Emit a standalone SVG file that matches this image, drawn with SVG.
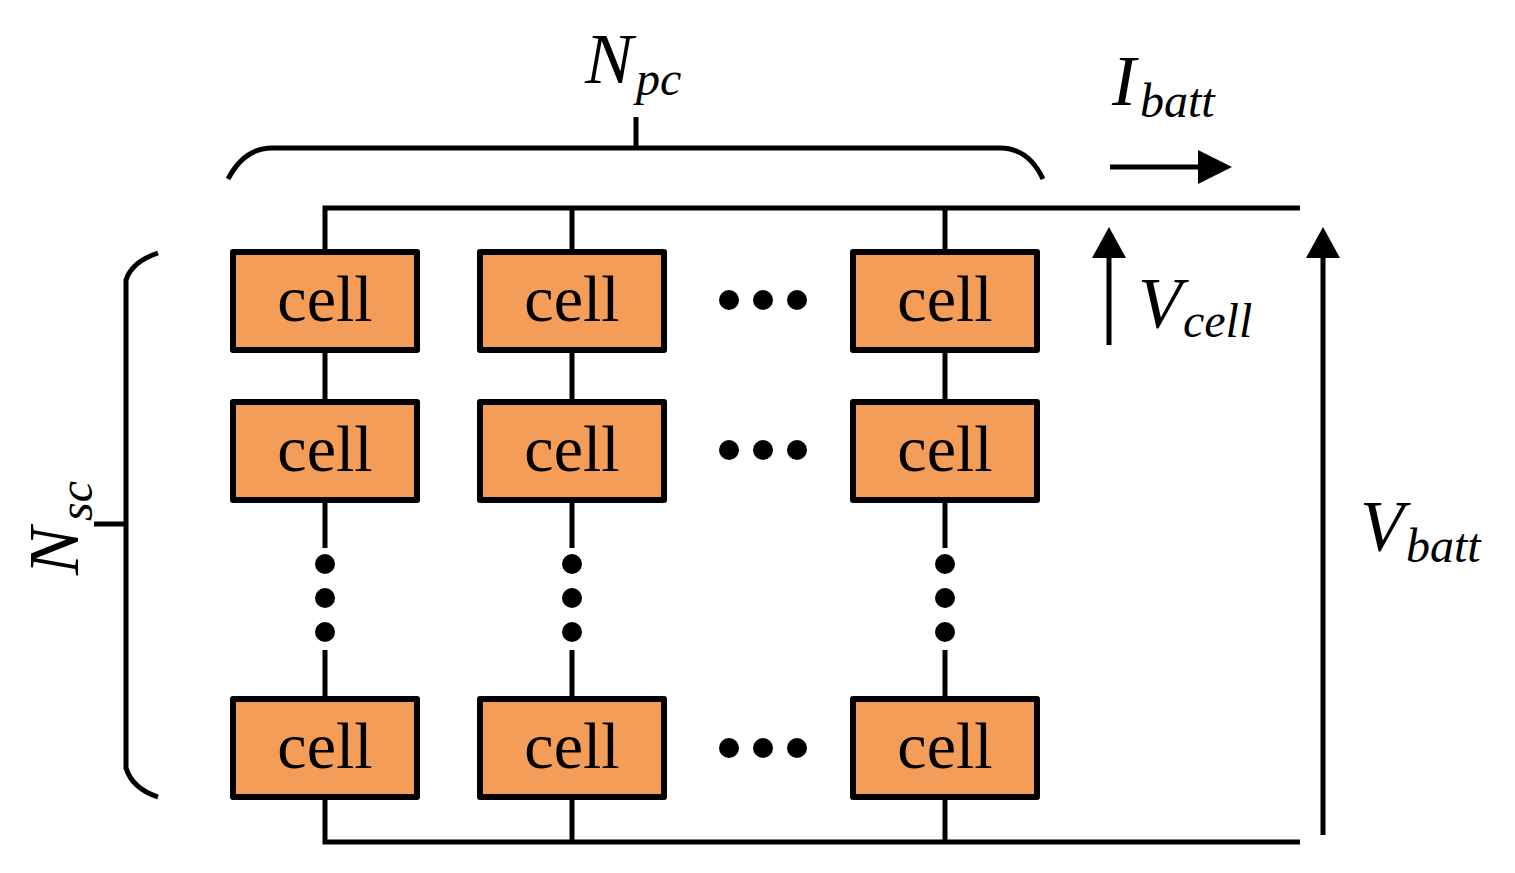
<svg xmlns="http://www.w3.org/2000/svg" width="1515" height="873" viewBox="0 0 1515 873">
<style>
.w{fill:none;stroke:#000;stroke-width:5}
.box{fill:#F39D59;stroke:#000;stroke-width:6;stroke-linejoin:round}
.ct{font-family:"Liberation Serif","Times New Roman",serif;font-size:66px;text-anchor:middle;fill:#000}
.lbl{font-family:"Liberation Serif","Times New Roman",serif;font-style:italic;fill:#000}
.big{font-size:72px}
.sub{font-size:48px}
.dot{fill:#000}
</style>
<rect width="1515" height="873" fill="#fff"/>
<g id="connectors">
<path class="w" d="M325,249 V208 H1300"/>
<path class="w" d="M572,249 V208"/>
<path class="w" d="M945,249 V208"/>
<path class="w" d="M325,800 V842 H1300"/>
<path class="w" d="M572,800 V842"/>
<path class="w" d="M945,800 V842"/>
<path class="w" d="M325,353 V399 M572,353 V399 M945,353 V399"/>
<path class="w" d="M325,503 V548 M572,503 V548 M945,503 V548"/>
<path class="w" d="M325,650 V696 M572,650 V696 M945,650 V696"/>
</g>
<g id="dots">
<circle class="dot" cx="325" cy="564" r="10"/><circle class="dot" cx="325" cy="598" r="10"/><circle class="dot" cx="325" cy="632" r="10"/>
<circle class="dot" cx="572" cy="564" r="10"/><circle class="dot" cx="572" cy="598" r="10"/><circle class="dot" cx="572" cy="632" r="10"/>
<circle class="dot" cx="945" cy="564" r="10"/><circle class="dot" cx="945" cy="598" r="10"/><circle class="dot" cx="945" cy="632" r="10"/>
<circle class="dot" cx="729" cy="300" r="10"/><circle class="dot" cx="763" cy="300" r="10"/><circle class="dot" cx="797" cy="300" r="10"/>
<circle class="dot" cx="729" cy="450" r="10"/><circle class="dot" cx="763" cy="450" r="10"/><circle class="dot" cx="797" cy="450" r="10"/>
<circle class="dot" cx="729" cy="748" r="10"/><circle class="dot" cx="763" cy="748" r="10"/><circle class="dot" cx="797" cy="748" r="10"/>
</g>
<g id="cell-1-1"><rect class="box" x="233" y="252" width="184" height="98"/><text class="ct" x="325" y="321">cell</text></g>
<g id="cell-1-2"><rect class="box" x="480" y="252" width="184" height="98"/><text class="ct" x="572" y="321">cell</text></g>
<g id="cell-1-3"><rect class="box" x="853" y="252" width="184" height="98"/><text class="ct" x="945" y="321">cell</text></g>
<g id="cell-2-1"><rect class="box" x="233" y="402" width="184" height="98"/><text class="ct" x="325" y="471">cell</text></g>
<g id="cell-2-2"><rect class="box" x="480" y="402" width="184" height="98"/><text class="ct" x="572" y="471">cell</text></g>
<g id="cell-2-3"><rect class="box" x="853" y="402" width="184" height="98"/><text class="ct" x="945" y="471">cell</text></g>
<g id="cell-3-1"><rect class="box" x="233" y="699" width="184" height="98"/><text class="ct" x="325" y="768">cell</text></g>
<g id="cell-3-2"><rect class="box" x="480" y="699" width="184" height="98"/><text class="ct" x="572" y="768">cell</text></g>
<g id="cell-3-3"><rect class="box" x="853" y="699" width="184" height="98"/><text class="ct" x="945" y="768">cell</text></g>
<g id="brace-npc">
<path class="w" d="M228,179 C238,160 252,148 272,148 H1000 C1020,148 1034,160 1043,179"/>
<path class="w" d="M636,148 V117"/>
<text class="lbl" x="585" y="83"><tspan class="big">N</tspan><tspan class="sub" dx="3" dy="12">pc</tspan></text>
</g>
<g id="brace-nsc">
<path class="w" d="M158,253 C140,259 130,268 126,280 V768 C130,781 140,791 158,797"/>
<path class="w" d="M126,524 H94"/>
<text class="lbl" transform="translate(78,575) rotate(-90)"><tspan class="big">N</tspan><tspan class="sub" dx="6" dy="14">sc</tspan></text>
</g>
<g id="ibatt">
<path class="w" d="M1110,167 H1202"/>
<polygon points="1198,150 1232,167 1198,184" fill="#000"/>
<text class="lbl" x="1112" y="105"><tspan class="big">I</tspan><tspan class="sub" dx="4" dy="12">batt</tspan></text>
</g>
<g id="vcell">
<path class="w" d="M1109,345 V254"/>
<polygon points="1092,258 1109,227 1126,258" fill="#000"/>
<text class="lbl" x="1138" y="327"><tspan class="big">V</tspan><tspan class="sub" dx="1" dy="10">cell</tspan></text>
</g>
<g id="vbatt">
<path class="w" d="M1323,835 V254"/>
<polygon points="1306,258 1323,227 1340,258" fill="#000"/>
<text class="lbl" x="1360" y="550"><tspan class="big">V</tspan><tspan class="sub" dx="2" dy="12">batt</tspan></text>
</g>
</svg>
